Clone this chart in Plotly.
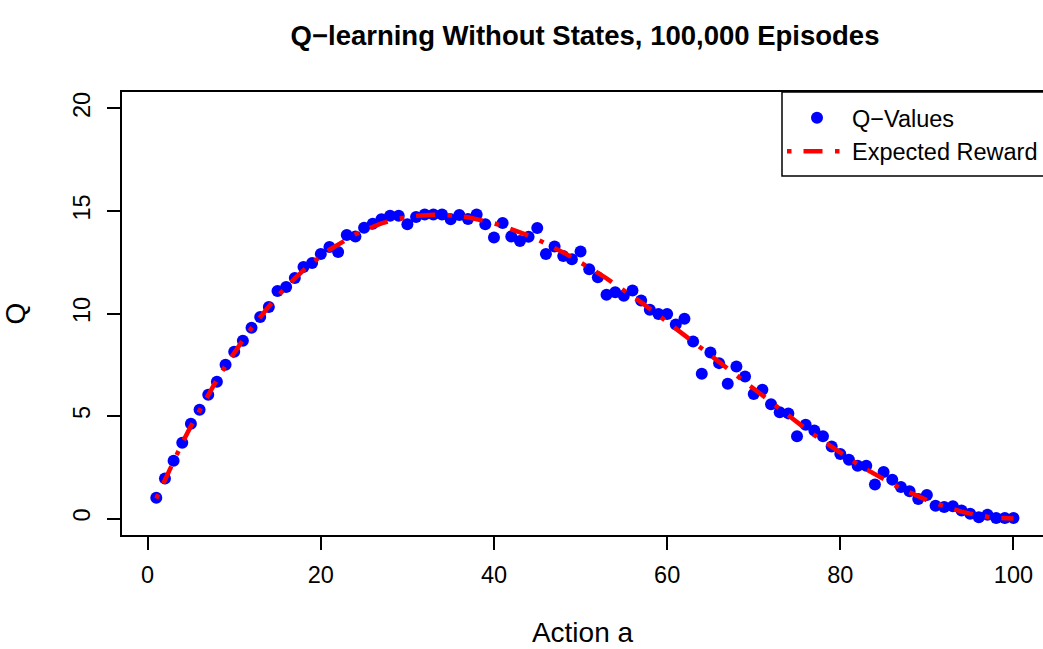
import plotly.graph_objects as go

actions = list(range(1, 101))

q_values = [1.02, 1.95, 2.82, 3.70, 4.62, 5.31, 6.04, 6.67, 7.50, 8.13,
            8.67, 9.30, 9.83, 10.32, 11.10, 11.29, 11.73, 12.27, 12.46, 12.90,
            13.24, 13.00, 13.83, 13.75, 14.18, 14.38, 14.60, 14.77, 14.77, 14.35,
            14.70, 14.83, 14.83, 14.83, 14.59, 14.80, 14.61, 14.83, 14.35, 13.71,
            14.41, 13.76, 13.53, 13.74, 14.17, 12.90, 13.27, 12.80, 12.64, 13.02,
            12.16, 11.77, 10.91, 11.04, 10.86, 11.12, 10.63, 10.18, 9.98, 9.98,
            9.46, 9.74, 8.63, 7.06, 8.10, 7.58, 6.57, 7.42, 6.93, 6.07,
            6.28, 5.57, 5.18, 5.13, 4.01, 4.58, 4.30, 4.01, 3.52, 3.15,
            2.87, 2.58, 2.58, 1.66, 2.27, 1.90, 1.54, 1.33, 0.96, 1.15,
            0.63, 0.57, 0.60, 0.40, 0.24, 0.06, 0.19, 0.03, 0.03, 0.03]

expected_reward = [0.98, 1.92, 2.82, 3.69, 4.51, 5.30, 6.05, 6.77, 7.45, 8.10,
                   8.71, 9.29, 9.84, 10.35, 10.84, 11.29, 11.71, 12.10, 12.47, 12.80,
                   13.11, 13.38, 13.64, 13.86, 14.06, 14.24, 14.39, 14.52, 14.62, 14.70,
                   14.76, 14.80, 14.81, 14.81, 14.79, 14.75, 14.69, 14.61, 14.51, 14.40,
                   14.27, 14.13, 13.97, 13.80, 13.61, 13.41, 13.20, 12.98, 12.74, 12.50,
                   12.25, 11.98, 11.71, 11.43, 11.14, 10.84, 10.54, 10.23, 9.92, 9.60,
                   9.28, 8.95, 8.62, 8.29, 7.96, 7.63, 7.30, 6.96, 6.63, 6.30,
                   5.97, 5.64, 5.32, 5.00, 4.69, 4.38, 4.07, 3.78, 3.48, 3.20,
                   2.92, 2.66, 2.40, 2.15, 1.91, 1.69, 1.47, 1.27, 1.08, 0.90,
                   0.74, 0.59, 0.46, 0.34, 0.24, 0.15, 0.09, 0.04, 0.01, 0.00]

x_ticks = [0, 20, 40, 60, 80, 100]
y_ticks = [0, 5, 10, 15, 20]

FONT = "Liberation Sans, Arial, Helvetica, sans-serif"
W, H = 1043, 649
L, T, B = 122, 92, 114
PW = W - L

fig = go.Figure()
fig.add_trace(go.Scatter(
    x=actions, y=q_values, mode="markers", name="Q\u2212Values",
    marker=dict(color="#0000FF", size=12, line=dict(width=0)),
))
fig.add_trace(go.Scatter(
    x=actions, y=expected_reward, mode="lines", name="Expected Reward",
    line=dict(color="#FF0000", width=4.5, dash="4.5px,12px,19px,12.5px"),
))

# legend frame (runs off the right edge, as in the reference)
fig.add_shape(type="rect", xref="paper", yref="paper",
              x0=(782 - L) / PW, x1=1.05, y0=1 - (176 - T) / (H - T - B), y1=1.0,
              line=dict(color="black", width=1.5), fillcolor="white", layer="above")

fig.update_layout(
    width=W, height=H,
    margin=dict(l=L, r=0, t=T, b=B, autoexpand=False),
    paper_bgcolor="white", plot_bgcolor="white",
    font=dict(family=FONT, size=23.5, color="black"),
    title=dict(text="<b>Q\u2212learning Without States, 100,000 Episodes</b>",
               x=(585 / W), xanchor="center", y=1 - 35 / H, yanchor="middle",
               font=dict(size=27.5, family=FONT, color="black")),
    showlegend=True,
    legend=dict(x=(782 - L) / PW, xanchor="left", y=1 - 4 / (H - T - B), yanchor="top",
                borderwidth=0, bgcolor="rgba(0,0,0,0)", itemwidth=60,
                font=dict(size=23.5, family=FONT), tracegroupgap=0),
)
fig.update_xaxes(
    range=[-2.96, 103.41], tickvals=x_ticks, ticktext=[str(v) for v in x_ticks],
    showgrid=False, zeroline=False, showline=True, mirror=True,
    linecolor="black", linewidth=1.5, ticks="outside", ticklen=13, tickwidth=1.5,
    tickcolor="black", ticklabelstandoff=5,
    title=dict(text="Action a", standoff=35),
)
fig.update_yaxes(
    range=[-0.8, 20.8], tickvals=y_ticks, ticktext=[str(v) for v in y_ticks],
    showgrid=False, zeroline=False, showline=True, mirror=False,
    linecolor="black", linewidth=1.5, ticks="outside", ticklen=13, tickwidth=1.5,
    tickcolor="black", tickangle=-90, ticklabelstandoff=8,
    title=dict(text="Q", standoff=36),
)

fig.write_html("out.html",
               config={"displayModeBar": False},
               post_script="document.body.style.margin='0';"
                           "document.documentElement.style.overflow='hidden';")
